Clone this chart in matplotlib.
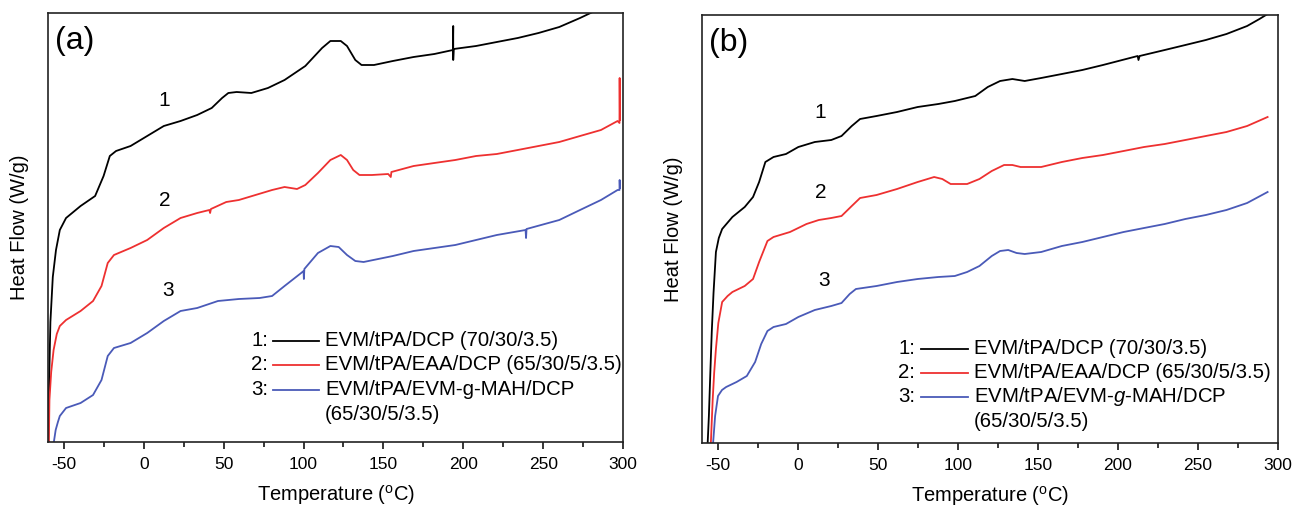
import matplotlib
matplotlib.use("Agg")
import matplotlib.pyplot as plt
from matplotlib.ticker import MultipleLocator

plt.rcParams['font.family'] = ['Liberation Sans', 'DejaVu Sans']
plt.rcParams['mathtext.fontset'] = 'custom'
plt.rcParams['mathtext.rm'] = 'Liberation Sans'
plt.rcParams['mathtext.it'] = 'Liberation Sans:italic'
plt.rcParams['axes.unicode_minus'] = False

# ---- panel (a) : DSC curves, heat flow in arbitrary units (shifted) ----
a_t1 = [-59.8, -59.3, -58.5, -57.0, -55.0, -52.6, -48.7, -39.6, -30.5, -25.2, -21.3, -17.4, -8.3, 2.1,
        12.5, 23.0, 33.4, 42.5, 49.0, 52.9, 58.1, 67.3, 77.7, 88.1, 101.1, 111.6, 116.8, 123.3, 127.2,
        132.4, 136.3, 144.1, 155.9, 168.9, 181.9, 193.5, 193.7, 193.7, 194.0, 208.0, 221.0, 234.1,
        247.1, 260.1, 273.1, 281.0, 285.0]
a_h1 = [-5, 60, 120, 165, 192, 212, 224, 236, 246, 266, 286, 291, 296, 306,
        316, 321, 327, 334, 344, 349, 350, 349, 354, 362, 376, 394, 401, 401, 396,
        382, 377, 377, 381, 385, 388, 392, 416, 382, 393, 396, 400, 404,
        409, 415, 424, 430, 434]

a_t2 = [-59.5, -59.1, -58.0, -56.5, -54.5, -52.6, -48.7, -39.6, -31.8, -26.5, -22.6, -18.7, -8.3, 2.1,
        12.5, 23.0, 33.4, 41.0, 41.5, 42.0, 51.6, 59.5, 69.9, 80.3, 88.1, 95.9, 101.1, 109.0, 116.8,
        123.3, 127.2, 131.1, 135.0, 142.8, 153.0, 154.6, 155.0, 168.9, 181.9, 195.0, 208.0, 221.0,
        234.1, 247.1, 260.1, 273.1, 286.2, 296.6, 297.8, 297.9, 298.1]
a_h2 = [-5, 42, 70, 92, 108, 116, 122, 131, 141, 156, 179, 187, 194, 202,
        214, 224, 229, 232, 229, 233, 240, 242, 247, 252, 255, 253, 257, 269, 282,
        287, 282, 272, 267, 267, 268, 265, 270, 276, 279, 282, 286, 288,
        292, 296, 300, 306, 312, 321, 319, 364, 322]

a_t3 = [-56.8, -55.2, -53.8, -52.6, -48.7, -39.6, -31.8, -26.5, -22.6, -18.7, -8.3, 2.1, 12.5, 23.0,
        33.4, 46.4, 59.5, 72.5, 80.3, 88.1, 98.5, 100.0, 100.2, 100.5, 109.0, 116.8, 122.0, 127.2,
        132.4, 137.6, 155.9, 168.9, 195.0, 221.0, 239.0, 239.3, 239.6, 260.1, 273.1, 286.2, 296.6,
        297.8, 297.9, 298.1]
a_h3 = [-5, 12, 20, 26, 34, 39, 47, 62, 86, 94, 99, 109, 121, 131,
        134, 141, 143, 144, 146, 156, 169, 171, 163, 173, 189, 196, 195, 187,
        181, 180, 186, 191, 197, 207, 212, 204, 213, 222, 232, 242, 252,
        252, 262, 254]

# ---- panel (b) ----
b_t1 = [-56.6, -55.7, -54.8, -53.9, -52.8, -51.3, -49.5, -47.4, -41.0, -33.3, -28.1, -24.3, -20.4,
        -15.3, -7.5, 0.2, 10.5, 20.8, 27.2, 33.6, 38.8, 49.1, 61.9, 74.8, 87.7, 98.0, 110.8, 118.6,
        126.3, 134.0, 141.7, 152.0, 164.9, 177.7, 190.6, 212.3, 212.8, 213.5, 229.2, 242.1, 254.9,
        267.8, 280.7, 288.4, 293.5, 296.0]
b_h1 = [-5, 27, 70, 111, 150, 191, 205, 214, 226, 236, 246, 261, 281,
        286, 289, 296, 301, 303, 307, 317, 324, 327, 331, 336, 339, 342, 347, 356,
        362, 364, 362, 365, 369, 373, 378, 387, 383, 387, 393, 398, 403,
        409, 417, 424, 429, 433]

b_t2 = [-54.6, -53.3, -52.4, -51.3, -49.8, -47.4, -44.0, -41.0, -33.3, -28.1, -24.3, -19.1, -15.3,
        -5.0, 5.3, 13.0, 20.8, 27.2, 33.6, 38.8, 49.1, 61.9, 74.8, 85.1, 90.2, 95.4, 105.7, 113.4,
        121.1, 128.8, 134.0, 139.1, 152.0, 164.9, 177.7, 190.6, 203.5, 216.3, 229.2, 242.1, 254.9,
        267.8, 280.7, 293.5]
b_h2 = [-5, 44, 70, 94, 120, 141, 147, 151, 157, 164, 181, 202, 206,
        211, 219, 223, 225, 227, 237, 245, 248, 254, 261, 266, 264, 259, 259, 264,
        272, 278, 278, 276, 276, 281, 285, 288, 292, 296, 299, 303, 307,
        311, 317, 326]

b_t3 = [-53.3, -51.8, -50.0, -47.5, -44.9, -38.4, -32.0, -26.8, -23.0, -19.1, -15.3, -7.5, 0.2,
        10.5, 20.8, 27.2, 32.3, 36.2, 49.1, 61.9, 74.8, 87.7, 98.0, 105.7, 113.4, 121.1, 126.3,
        131.4, 136.6, 141.7, 152.0, 164.9, 177.7, 190.6, 203.5, 216.3, 229.2, 242.1, 254.9, 267.8,
        280.7, 293.5]
b_h3 = [-5, 27, 47, 53, 56, 61, 67, 81, 99, 112, 116, 119, 126,
        133, 137, 140, 149, 154, 157, 161, 164, 166, 167, 171, 177, 187, 192,
        193, 190, 189, 191, 197, 201, 206, 211, 215, 219, 224, 228, 233,
        240, 251]

colors = ['black', '#ee3030', '#4a5ab8']
legend_labels = ['EVM/tPA/DCP (70/30/3.5)',
                 'EVM/tPA/EAA/DCP (65/30/5/3.5)']
label_3a = 'EVM/tPA/EVM-g-MAH/DCP\n(65/30/5/3.5)'
label_3b = 'EVM/tPA/EVM-$\\it{g}$-MAH/DCP\n(65/30/5/3.5)'

fig = plt.figure(figsize=(12.93, 5.09), dpi=100)
ax_a = fig.add_axes([48 / 1293, 67 / 509, 575 / 1293, 429 / 509])
ax_b = fig.add_axes([702 / 1293, 66 / 509, 576 / 1293, 428 / 509])


def setup(ax, tag, ymax):
    ax.set_xlim(-60, 300)
    ax.set_ylim(0, ymax)
    ax.xaxis.set_major_locator(MultipleLocator(50))
    ax.xaxis.set_minor_locator(MultipleLocator(25))
    ax.tick_params(axis='x', which='major', direction='out', length=5, width=1.1, labelsize=12.5, pad=6)
    ax.tick_params(axis='x', which='minor', direction='out', length=3.5, width=1.1)
    ax.set_yticks([])
    for s in ax.spines.values():
        s.set_linewidth(1.2)
        s.set_color('#222222')
    ax.set_xlabel('Temperature ($^{\\rm o}$C)', fontsize=14.5, labelpad=8)
    ax.set_ylabel('Heat Flow (W/g)', fontsize=14.5, labelpad=14)
    ax.text(0.012, 0.935, tag, transform=ax.transAxes, fontsize=23, va='center', ha='left')


def legend(ax, labels, x0, xl0, xl1, xt, rows):
    for i, (lab, c) in enumerate(zip(labels, colors)):
        y = rows[i]
        ax.text(x0, y, f'{i + 1}:', transform=ax.transAxes, fontsize=14.7, ha='right', va='center')
        ax.plot([xl0, xl1], [y, y], transform=ax.transAxes, color=c, lw=1.3)
        ax.text(xt, y, lab.split('\n')[0], transform=ax.transAxes, fontsize=14.7, ha='left', va='center')
        if '\n' in lab:
            ax.text(xt, rows[i + 1], lab.split('\n')[1], transform=ax.transAxes, fontsize=14.7,
                    ha='left', va='center')


for t, h, c in zip([a_t1, a_t2, a_t3], [a_h1, a_h2, a_h3], colors):
    ax_a.plot(t, h, color=c, lw=1.3)
for t, h, c in zip([b_t1, b_t2, b_t3], [b_h1, b_h2, b_h3], colors):
    ax_b.plot(t, h, color=c, lw=1.3)

setup(ax_a, '(a)', 429)
setup(ax_b, '(b)', 428)

for n, (x, y) in zip(['1', '2', '3'], [(13, 341), (13, 241), (15, 152)]):
    ax_a.text(x, y, n, fontsize=15, ha='center', va='center')
for n, (x, y) in zip(['1', '2', '3'], [(14, 331), (14, 251), (16, 162)]):
    ax_b.text(x, y, n, fontsize=15, ha='center', va='center')

legend(ax_a, legend_labels + [label_3a], 0.383, 0.391, 0.472, 0.482, [0.236, 0.180, 0.122, 0.063])
legend(ax_b, legend_labels + [label_3b], 0.370, 0.380, 0.462, 0.472, [0.220, 0.164, 0.108, 0.051])

fig.savefig('out.png', dpi=100)
